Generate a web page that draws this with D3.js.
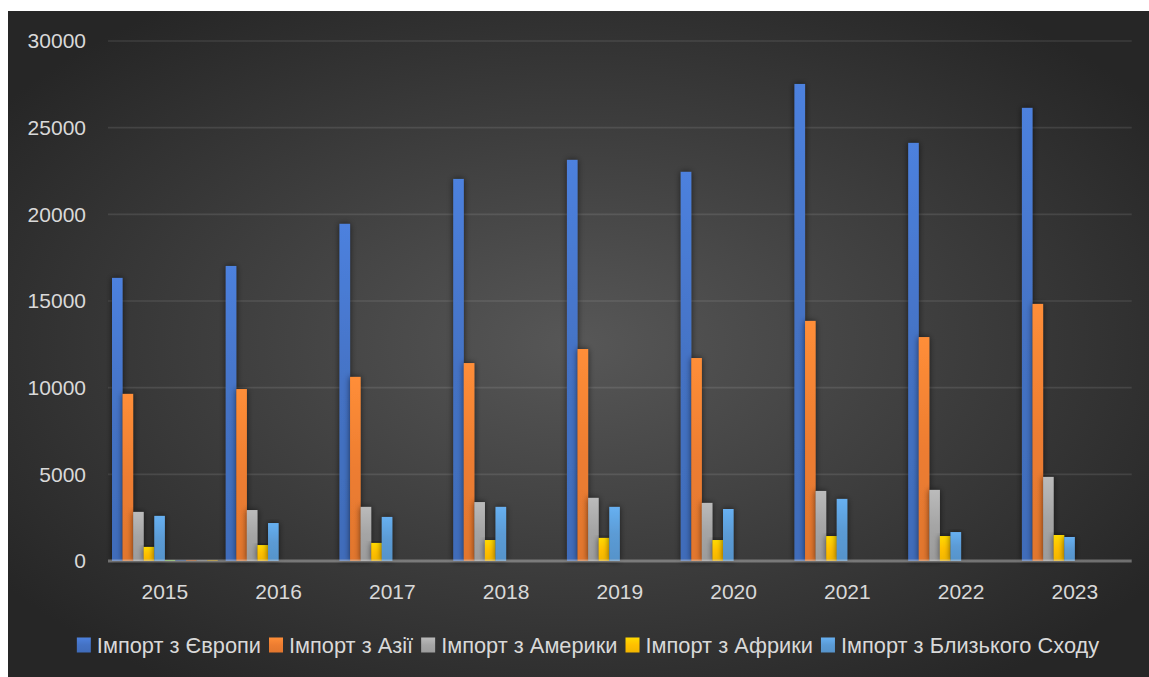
<!DOCTYPE html>
<html>
<head>
<meta charset="utf-8">
<script src="https://cdn.jsdelivr.net/npm/d3@7"></script>
<style>
  body { margin: 0; background: #fff; }
  svg text { font-family: "Liberation Sans", Arial, sans-serif; fill: #d9d9d9; }
</style>
</head>
<body>
<svg id="chart" width="1149" height="677"></svg>
<script>
const years = ["2015", "2016", "2017", "2018", "2019", "2020", "2021", "2022", "2023"];
const seriesNames = ["Імпорт з Європи", "Імпорт з Азії", "Імпорт з Америки", "Імпорт з Африки", "Імпорт з Близького Сходу"];
const europe = [16330, 17020, 19450, 22040, 23140, 22450, 27520, 24120, 26140];
const asia = [9640, 9920, 10620, 11420, 12230, 11710, 13850, 12920, 14830];
const america = [2830, 2940, 3120, 3400, 3640, 3350, 4040, 4100, 4850];
const africa = [810, 920, 1040, 1210, 1330, 1210, 1440, 1440, 1500];
const middleEast = [2600, 2190, 2540, 3120, 3120, 3000, 3580, 1670, 1385];
// extra series with no legend entry, only a sliver in 2015
const extra1 = [60, 0, 0, 0, 0, 0, 0, 0, 0];
const extra2 = [60, 0, 0, 0, 0, 0, 0, 0, 0];
const extra3 = [60, 0, 0, 0, 0, 0, 0, 0, 0];
const extra4 = [60, 0, 0, 0, 0, 0, 0, 0, 0];
const extra5 = [60, 0, 0, 0, 0, 0, 0, 0, 0];
const yTicks = [0, 5000, 10000, 15000, 20000, 25000, 30000];

const allSeries = [europe, asia, america, africa, middleEast, extra1, extra2, extra3, extra4, extra5];
const colors = ["#4472C4", "#ED7D31", "#A5A5A5", "#FFC000", "#5B9BD5",
                "#70AD47", "#264478", "#9E480E", "#636363", "#997300"];

const svg = d3.select("#chart");
const defs = svg.append("defs");

const bg = defs.append("radialGradient").attr("id", "bg")
    .attr("cx", "0.5").attr("cy", "0.5").attr("r", "0.62");
bg.append("stop").attr("offset", "0").attr("stop-color", "#575757");
bg.append("stop").attr("offset", "1").attr("stop-color", "#262626");

colors.forEach((c, i) => {
    const g = defs.append("linearGradient").attr("id", "bar" + i)
        .attr("x1", 0).attr("y1", 0).attr("x2", 0).attr("y2", 1);
    g.append("stop").attr("offset", "0").attr("stop-color", d3.color(c).brighter(0.35));
    g.append("stop").attr("offset", "0.5").attr("stop-color", c);
    g.append("stop").attr("offset", "1").attr("stop-color", d3.color(c).darker(0.15));
});

const shadow = defs.append("filter").attr("id", "shadow")
    .attr("x", "-100%").attr("y", "-10%").attr("width", "300%").attr("height", "120%");
shadow.append("feDropShadow").attr("dx", 0).attr("dy", 0).attr("stdDeviation", 3)
    .attr("flood-color", "#000").attr("flood-opacity", 0.6);

svg.append("rect").attr("x", 8).attr("y", 11).attr("width", 1141).attr("height", 666)
    .attr("fill", "url(#bg)");

const plotLeft = 108, plotRight = 1131.7, plotTop = 41, plotBottom = 561;

const y = d3.scaleLinear().domain([0, 30000]).range([plotBottom, plotTop]);
const x0 = d3.scaleBand().domain(years).range([plotLeft, plotRight]).paddingInner(0).paddingOuter(0);
const x1 = d3.scaleBand().domain(d3.range(allSeries.length))
    .range([4, x0.bandwidth() - 4]).padding(0);

// gridlines
svg.append("g").selectAll("line")
    .data(yTicks.filter(t => t > 0))
    .enter().append("line")
    .attr("x1", plotLeft).attr("x2", plotRight)
    .attr("y1", d => y(d)).attr("y2", d => y(d))
    .attr("stroke", "rgba(255,255,255,0.1)").attr("stroke-width", 1.6);

// y labels
svg.append("g").selectAll("text")
    .data(yTicks)
    .enter().append("text")
    .attr("x", 86).attr("y", d => y(d)).attr("dy", "0.35em")
    .attr("text-anchor", "end").attr("font-size", 21)
    .text(d => d);

// bars
const groups = svg.append("g").selectAll("g")
    .data(years)
    .enter().append("g")
    .attr("transform", d => "translate(" + x0(d) + ",0)");

groups.selectAll("rect")
    .data((yr, yi) => allSeries.map((s, si) => ({ si: si, v: s[yi] })))
    .enter().append("rect")
    .filter(d => d.v > 0)
    .attr("x", d => x1(d.si))
    .attr("width", x1.bandwidth())
    .attr("y", d => y(d.v))
    .attr("height", d => plotBottom - y(d.v))
    .attr("fill", d => "url(#bar" + d.si + ")")
    .attr("filter", d => d.si < 5 ? "url(#shadow)" : null);

// axis line
svg.append("line")
    .attr("x1", plotLeft).attr("x2", plotRight)
    .attr("y1", plotBottom).attr("y2", plotBottom)
    .attr("stroke", "rgba(217,217,217,0.4)").attr("stroke-width", 3);

// x labels
svg.append("g").selectAll("text")
    .data(years)
    .enter().append("text")
    .attr("x", d => x0(d) + x0.bandwidth() / 2)
    .attr("y", 592).attr("dy", "0.35em")
    .attr("text-anchor", "middle").attr("font-size", 21)
    .text(d => d);

// legend
const legend = svg.append("g");
let lx = 0;
seriesNames.forEach((name, i) => {
    const item = legend.append("g").attr("transform", "translate(" + lx + ",0)");
    item.append("rect").attr("x", 0).attr("y", -7.5).attr("width", 14).attr("height", 15)
        .attr("fill", "url(#bar" + i + ")");
    const t = item.append("text").attr("x", 20).attr("y", 0).attr("dy", "0.35em")
        .attr("font-size", 21.8).text(name);
    lx += 20 + t.node().getComputedTextLength() + 8;
});
const legendWidth = lx - 8;
legend.attr("transform", "translate(" + (588 - legendWidth / 2) + ",645)");
</script>
</body>
</html>
